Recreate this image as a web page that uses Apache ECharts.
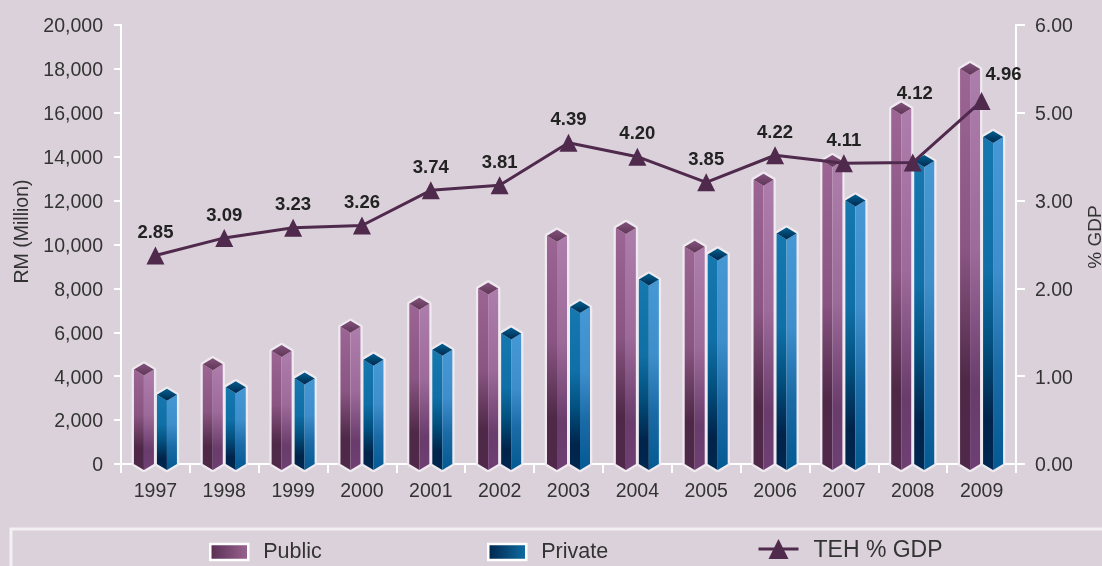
<!DOCTYPE html>
<html><head><meta charset="utf-8">
<style>html,body{margin:0;padding:0;background:#dbd1da}#c{width:1102px;height:566px}</style>
<script src="https://cdn.jsdelivr.net/npm/echarts@6/dist/echarts.min.js"></script>
</head><body><div id="c"></div>
<script>
const years = ['1997','1998','1999','2000','2001','2002','2003','2004','2005','2006','2007','2008','2009'];
const publicSpend = [4300,4550,5150,6250,7300,8000,10400,10750,9900,12950,13800,16200,18000];
const privateSpend = [3150,3500,3900,4750,5200,5950,7150,8400,9550,10500,12000,13800,14900];
const tehGdp = [2.85,3.09,3.23,3.26,3.74,3.81,4.39,4.20,3.85,4.22,4.11,4.12,4.96];
const rightTicks = ['0.00','1.00','2.00','3.00','5.00','6.00'];
const leftInterval = 2000;

const FONT = '"Liberation Sans", Arial, sans-serif';
const TXT = '#333';
const grad = (x,y,x2,y2,stops)=>new echarts.graphic.LinearGradient(x,y,x2,y2,stops.map(s=>({offset:s[0],color:s[1]})));

const PAL = {
  pub:{l:[[0,'#9c6593'],[0.45,'#8a5583'],[0.78,'#4e2846'],[1,'#50294a']],
       r:[[0,'#ad7dab'],[0.45,'#9d6b9a'],[0.8,'#693c6c'],[1,'#6f3f73']],
       t:['#82527b','#5f3658']},
  pri:{l:[[0,'#1578ae'],[0.4,'#0f6fa6'],[0.62,'#02507f'],[0.85,'#00234a'],[1,'#002850']],
       r:[[0,'#4698d4'],[0.4,'#3d8ecb'],[0.7,'#1a6aa6'],[1,'#045a92']],
       t:['#005f8f','#00284f']}
};

function prism(pal, dx){
  return function(params, api){
    const base = api.coord([api.value(0), 0]);
    const top = api.coord([api.value(0), api.value(1)]);
    const cx = base[0] + dx, hw = 10, dy = 6;
    const yT = top[1], yB = base[1];
    const outline = [[cx-hw,yT],[cx,yT-dy],[cx+hw,yT],[cx+hw,yB],[cx,yB+dy],[cx-hw,yB]];
    const face = (pts,fill)=>({type:'polygon',shape:{points:pts},style:{fill:fill},silent:true});
    return {type:'group',children:[
      {type:'polygon',shape:{points:outline},style:{fill:'#efeaf0',stroke:'#efeaf0',lineWidth:4.5,lineJoin:'round'}},
      face([[cx-hw,yT],[cx,yT+dy],[cx,yB+dy],[cx-hw,yB]],grad(0,0,0,1,pal.l)),
      face([[cx,yT+dy],[cx+hw,yT],[cx+hw,yB],[cx,yB+dy]],grad(0,0,0,1,pal.r)),
      face([[cx-hw,yT],[cx,yT-dy],[cx+hw,yT],[cx,yT+dy]],grad(0,0,0,1,[[0,pal.t[0]],[1,pal.t[1]]]))
    ]};
  };
}

const labelTweak = {'2008':{offset:[2,-46]}, '2009':{offset:[22,-4]}};
const lineData = tehGdp.map((v,i)=>{
  const t = labelTweak[years[i]];
  return t ? {value:v,label:{offset:t.offset}} : v;
});

const tick = {color:TXT,fontSize:19.5,fontFamily:FONT,padding:[4,0,0,0]};
const legendText = (fs)=>({color:TXT,fontSize:fs,fontFamily:FONT,padding:[0,0,0,10],
  rich:{a:{color:TXT,fontSize:fs,fontFamily:FONT,padding:[4,0,0,0]}}});
const swatch = {borderColor:'#fff',borderWidth:2.5};

const chart = echarts.init(document.getElementById('c'),null,{renderer:'canvas'});
chart.setOption({
  animation:false,
  backgroundColor:'#dbd1da',
  textStyle:{fontFamily:FONT},
  grid:{left:121,right:86,top:25,bottom:102,containLabel:false,outerBoundsMode:'none'},
  graphic:[{type:'rect',z:0,shape:{x:11,y:529,width:1200,height:80},
    style:{fill:'transparent',stroke:'#f4f1f4',lineWidth:3}}],
  legend:[
    {left:209,top:541,padding:0,itemWidth:38,itemHeight:16,textStyle:{color:TXT,fontSize:21.5,fontFamily:FONT,padding:[0,0,0,10]},
     data:[{name:'Public',icon:'rect',itemStyle:Object.assign({color:grad(0,0,1,0,[[0,'#562d50'],[1,'#9c6593']])},swatch)}]},
    {left:487,top:541,padding:0,itemWidth:38,itemHeight:16,textStyle:{color:TXT,fontSize:21.5,fontFamily:FONT,padding:[0,0,0,10]},
     data:[{name:'Private',icon:'rect',itemStyle:Object.assign({color:grad(0,0,1,0,[[0,'#00234a'],[1,'#0f6fa6']])},swatch)}]},
    {left:757,top:539,padding:0,itemWidth:40,itemHeight:25,textStyle:legendText(23),
     formatter:n=>'{a|'+n+'}',lineStyle:{width:3},data:[{name:'TEH % GDP'}]}
  ],
  xAxis:{type:'category',data:years,
    axisLine:{lineStyle:{color:'#fff',width:2}},
    axisTick:{show:true,alignWithLabel:false,length:9,lineStyle:{color:'#fff',width:2}},
    axisLabel:{color:TXT,fontSize:19.5,margin:18,fontFamily:FONT}},
  yAxis:[
    {type:'value',min:0,max:20000,interval:leftInterval,
     name:'RM (Million)',nameLocation:'middle',nameRotate:90,nameGap:88,
     nameTextStyle:{color:TXT,fontSize:19.5,fontFamily:FONT,padding:[0,0,0,26]},
     axisLine:{show:true,lineStyle:{color:'#fff',width:2}},
     axisTick:{show:true,inside:false,length:7,lineStyle:{color:'#fff',width:2}},
     splitLine:{show:false},
     axisLabel:{color:TXT,fontSize:19.5,margin:18,fontFamily:FONT,rich:{a:tick},
       formatter:v=>'{a|'+v.toLocaleString('en-US')+'}'}},
    {type:'value',min:0,max:6,interval:1.2,position:'right',
     name:'% GDP',nameLocation:'middle',nameRotate:90,nameGap:70,
     nameTextStyle:{color:TXT,fontSize:19,fontFamily:FONT,padding:[0,0,0,15]},
     axisLine:{show:true,lineStyle:{color:'#fff',width:2}},
     axisTick:{show:true,length:9,lineStyle:{color:'#fff',width:2}},
     splitLine:{show:false},
     axisLabel:{color:TXT,fontSize:19.5,margin:19,fontFamily:FONT,rich:{a:tick},
       formatter:v=>'{a|'+rightTicks[Math.round(v/1.2)]+'}'}}
  ],
  series:[
    {name:'Public',type:'custom',renderItem:prism(PAL.pub,-11.5),encode:{x:0,y:1},
     data:years.map((y,i)=>[i,publicSpend[i]]),z:2,silent:true,clip:false},
    {name:'Private',type:'custom',renderItem:prism(PAL.pri,11.5),encode:{x:0,y:1},
     data:years.map((y,i)=>[i,privateSpend[i]]),z:2,silent:true,clip:false},
    {name:'TEH % GDP',type:'line',yAxisIndex:1,data:lineData,z:5,
     symbol:'triangle',symbolSize:18,showAllSymbol:true,
     lineStyle:{color:'#4f2a4d',width:3},
     itemStyle:{color:'#4f2a4d',borderWidth:0},
     label:{show:true,position:'top',distance:4,color:'#222',fontWeight:'bold',fontSize:18.5,fontFamily:FONT,
            formatter:p=>tehGdp[p.dataIndex].toFixed(2)}}
  ]
});
</script></body></html>
